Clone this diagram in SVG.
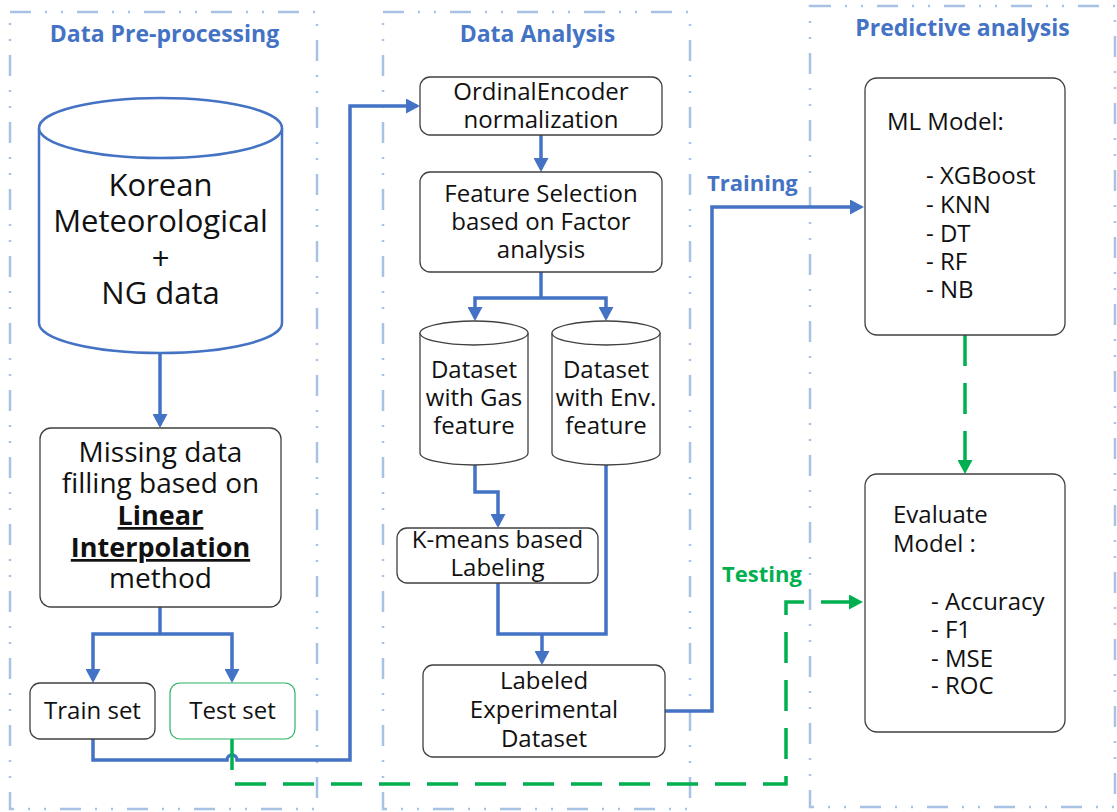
<svg xmlns="http://www.w3.org/2000/svg" width="1117" height="812" viewBox="0 0 1117 812">
  <style>
    .frame { fill: none; stroke: #A7C2E4; stroke-width: 2.5; stroke-dasharray: 21 14 2 14 2 14; }
    .title { font-family: "Open Sans", "Liberation Sans", sans-serif; font-weight: bold; font-size: 23px; fill: #4472C4; text-anchor: middle; }
    .box { fill: #ffffff; stroke: #404040; stroke-width: 1.3; }
    .db { fill: #ffffff; stroke: #404040; stroke-width: 1.3; }
    .t { font-family: "Open Sans", "Liberation Sans", sans-serif; font-size: 24px; fill: #111111; }
    .big { font-size: 31px; }
    .mid { font-size: 28px; }
    .ul { font-size: 27px; font-weight: bold; text-decoration: underline; }
    .c { text-anchor: middle; }
    .flow { fill: none; stroke: #4472C4; stroke-width: 3.5; }
    .test { fill: none; stroke: #00B050; stroke-width: 3.5; stroke-dasharray: 31 17; }
    .lbl { font-family: "Open Sans", "Liberation Sans", sans-serif; font-weight: bold; font-size: 22px; }
  </style>
  <defs>
    <marker id="arrowBlue" viewBox="0 0 14 15" refX="11" refY="7.5" markerWidth="14" markerHeight="15" markerUnits="userSpaceOnUse" orient="auto">
      <path d="M0,0 L14,7.5 L0,15 z" fill="#4472C4"/>
    </marker>
    <marker id="arrowGreen" viewBox="0 0 14 15" refX="11" refY="7.5" markerWidth="14" markerHeight="15" markerUnits="userSpaceOnUse" orient="auto">
      <path d="M0,0 L14,7.5 L0,15 z" fill="#00B050"/>
    </marker>
  </defs>

  <rect width="1117" height="812" fill="#ffffff"/>

  <!-- stage frames -->
  <g id="stages">
    <rect class="frame" x="10" y="12" width="307" height="797"/>
    <rect class="frame" x="383" y="12" width="307" height="797"/>
    <rect class="frame" x="810" y="6" width="305" height="801"/>
    <text class="title" x="164.5" y="42">Data Pre-processing</text>
    <text class="title" x="537.5" y="42">Data Analysis</text>
    <text class="title" x="962.5" y="36">Predictive analysis</text>
  </g>

  <!-- connectors -->
  <g id="connectors">
    <path class="flow" d="M160,353 V425" marker-end="url(#arrowBlue)"/>
    <path class="flow" d="M160,607 V634"/>
    <path class="flow" d="M160,634 H93 V680" marker-end="url(#arrowBlue)"/>
    <path class="flow" d="M160,634 H232 V680" marker-end="url(#arrowBlue)"/>
    <path class="flow" d="M93,739 V760 H227 A5,5 0 0 1 237,760 H350 V106 H417" marker-end="url(#arrowBlue)"/>
    <path class="flow" d="M541,135 V169" marker-end="url(#arrowBlue)"/>
    <path class="flow" d="M541,272 V298"/>
    <path class="flow" d="M541,298 H475 V318" marker-end="url(#arrowBlue)"/>
    <path class="flow" d="M541,298 H606 V318" marker-end="url(#arrowBlue)"/>
    <path class="flow" d="M475,465 V492 H498 V525" marker-end="url(#arrowBlue)"/>
    <path class="flow" d="M498,583 V634 H606 V465"/>
    <path class="flow" d="M542,634 V662" marker-end="url(#arrowBlue)"/>
    <path class="flow" d="M665,711 H712 V207 H861" marker-end="url(#arrowBlue)"/>
    <path class="test" d="M232,739 V784 H786 V602 H860" marker-end="url(#arrowGreen)"/>
    <path class="test" d="M965,335 V471" marker-end="url(#arrowGreen)"/>
    <text class="lbl" x="707" y="191" fill="#4472C4">Training</text>
    <text class="lbl" x="722" y="582" fill="#00B050">Testing</text>
  </g>

  <!-- source database -->
  <g id="source-data">
    <path d="M39,128 V323 A121.5,30 0 0 0 282,323 V128" fill="#ffffff" stroke="#4472C4" stroke-width="2.5"/>
    <ellipse cx="160.5" cy="128" rx="121.5" ry="30" fill="#ffffff" stroke="#4472C4" stroke-width="2.5"/>
    <text class="t big c" x="160.5" y="196">Korean</text>
    <text class="t big c" x="160.5" y="232">Meteorological</text>
    <text class="t big c" x="160.5" y="270">+</text>
    <text class="t big c" x="160.5" y="304">NG data</text>
  </g>

  <g id="missing-data">
    <rect class="box" x="40" y="428" width="241" height="179" rx="11"/>
    <text class="t mid c" x="160.5" y="462">Missing data</text>
    <text class="t mid c" x="160.5" y="493">filling based on</text>
    <text class="t ul c" x="160.5" y="525">Linear</text>
    <text class="t ul c" x="160.5" y="557">Interpolation</text>
    <text class="t mid c" x="160.5" y="588">method</text>
  </g>

  <g id="train-set">
    <rect class="box" x="30" y="683" width="125" height="56" rx="10"/>
    <text class="t c" x="92.5" y="719">Train set</text>
  </g>

  <g id="test-set">
    <rect x="170" y="683" width="125" height="56" rx="10" fill="#ffffff" stroke="#2DB36A" stroke-width="1.2"/>
    <text class="t c" x="232.5" y="719">Test set</text>
  </g>

  <g id="ordinal-encoder">
    <rect class="box" x="420" y="77" width="242" height="58" rx="10"/>
    <text class="t c" x="541" y="100">OrdinalEncoder</text>
    <text class="t c" x="541" y="128">normalization</text>
  </g>

  <g id="feature-selection">
    <rect class="box" x="420" y="172" width="242" height="100" rx="10"/>
    <text class="t c" x="541" y="202">Feature Selection</text>
    <text class="t c" x="541" y="230">based on Factor</text>
    <text class="t c" x="541" y="258">analysis</text>
  </g>

  <g id="gas-dataset">
    <path class="db" d="M420,333 V453 A54,12 0 0 0 528,453 V333"/>
    <ellipse class="db" cx="474" cy="333" rx="54" ry="12"/>
    <text class="t c" x="474" y="378">Dataset</text>
    <text class="t c" x="474" y="406">with Gas</text>
    <text class="t c" x="474" y="434">feature</text>
  </g>

  <g id="env-dataset">
    <path class="db" d="M552,333 V453 A54,12 0 0 0 660,453 V333"/>
    <ellipse class="db" cx="606" cy="333" rx="54" ry="12"/>
    <text class="t c" x="606" y="378">Dataset</text>
    <text class="t c" x="606" y="406">with Env.</text>
    <text class="t c" x="606" y="434">feature</text>
  </g>

  <g id="kmeans">
    <rect class="box" x="397" y="528" width="201" height="55" rx="10"/>
    <text class="t c" x="497.5" y="548">K-means based</text>
    <text class="t c" x="497.5" y="576">Labeling</text>
  </g>

  <g id="labeled-dataset">
    <rect class="box" x="423" y="665" width="242" height="92" rx="10"/>
    <text class="t c" x="544" y="689">Labeled</text>
    <text class="t c" x="544" y="718">Experimental</text>
    <text class="t c" x="544" y="747">Dataset</text>
  </g>

  <g id="ml-model">
    <rect class="box" x="865" y="78" width="200" height="257" rx="12"/>
    <text class="t" x="887" y="130">ML Model:</text>
    <text class="t" x="926" y="184">- XGBoost</text>
    <text class="t" x="926" y="213">- KNN</text>
    <text class="t" x="926" y="242">- DT</text>
    <text class="t" x="926" y="270">- RF</text>
    <text class="t" x="926" y="298">- NB</text>
  </g>

  <g id="evaluate-model">
    <rect class="box" x="865" y="474" width="200" height="258" rx="12"/>
    <text class="t" x="893" y="523">Evaluate</text>
    <text class="t" x="893" y="552">Model :</text>
    <text class="t" x="931" y="610">- Accuracy</text>
    <text class="t" x="931" y="638">- F1</text>
    <text class="t" x="931" y="667">- MSE</text>
    <text class="t" x="931" y="694">- ROC</text>
  </g>
</svg>
